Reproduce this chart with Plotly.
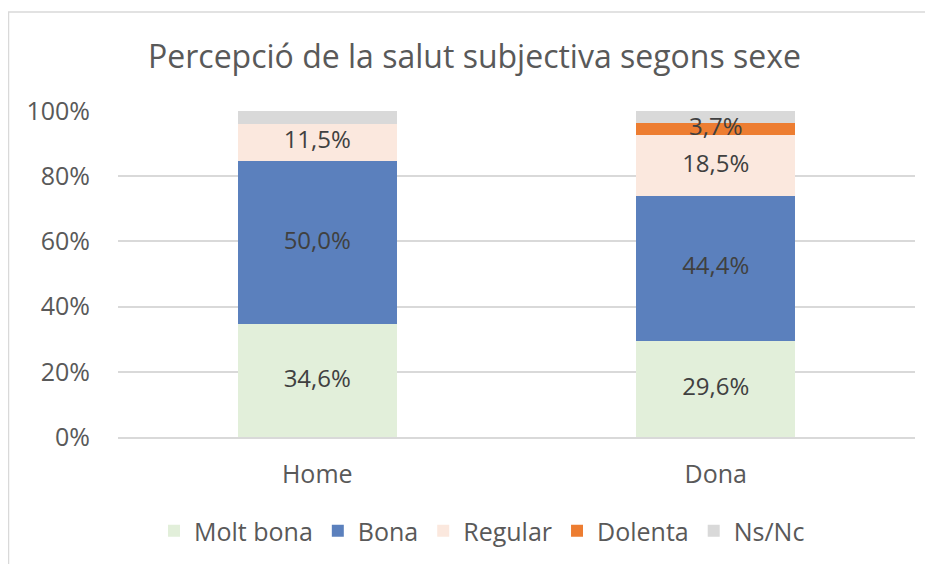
import plotly.graph_objects as go

categories = ['Home', 'Dona']
series_names = ['Molt bona', 'Bona', 'Regular', 'Dolenta', 'Ns/Nc']
molt_bona = [0.346, 0.296]
bona = [0.500, 0.444]
regular = [0.115, 0.185]
dolenta = [0.0, 0.037]
ns_nc = [0.039, 0.038]
show_labels = [True, True, True, True, False]
colors = ['#E2EFDA', '#5B80BD', '#FBE8DE', '#ED7D31', '#D9D9D9']

# page body adds an 8px offset, so layout numbers are reference px - 8
W, H = 933, 564
L, R, T, B = 110, 26, 103, 135


def fmt(v):
    return f'{v * 100:.1f}%'.replace('.', ',')


series = [molt_bona, bona, regular, dolenta, ns_nc]

fig = go.Figure()
for name, values, color in zip(series_names, series, colors):
    fig.add_trace(go.Bar(
        name=name,
        x=categories,
        y=values,
        marker=dict(color=color, line=dict(width=0)),
        hoverinfo='skip',
    ))

# data labels drawn on top of all bars, at the middle of each segment
lab_x, lab_y, lab_t = [], [], []
base = [0.0] * len(categories)
for values, lab in zip(series, show_labels):
    for i, v in enumerate(values):
        if lab and v > 0:
            lab_x.append(categories[i])
            lab_y.append(base[i] + v / 2)
            lab_t.append(fmt(v))
        base[i] += v
fig.add_trace(go.Scatter(
    x=lab_x, y=lab_y, text=lab_t, mode='text',
    textposition='middle center',
    textfont=dict(family='Open Sans', size=24, color='#404040'),
    showlegend=False, hoverinfo='skip', cliponaxis=False,
))

# border around the chart area (in paper coordinates)
pw, ph = W - L - R, H - T - B
fig.add_shape(
    type='rect', xref='paper', yref='paper',
    x0=(0.5 - L) / pw, x1=(W + 20 - L) / pw,
    y0=-(H + 20 - T - ph) / ph, y1=(H - 4 - B) / ph,
    line=dict(color='#D9D9D9', width=1.5), fillcolor='rgba(0,0,0,0)', layer='below',
)

fig.update_layout(
    width=W, height=H,
    margin=dict(l=L, r=R, t=T, b=B),
    barmode='stack',
    bargap=0.6,
    separators=',.',
    plot_bgcolor='white',
    paper_bgcolor='white',
    font=dict(family='Open Sans', color='#595959'),
    title=dict(
        text='Percepció de la salut subjectiva segons sexe',
        x=0.5, xanchor='center', xref='container',
        y=1 - 49 / H, yanchor='middle',
        font=dict(family='Open Sans', size=32, color='#595959'),
    ),
    legend=dict(
        orientation='h', x=(482 - 8 - L) / pw, xanchor='center', xref='paper',
        y=-(523 - (H - B)) / ph, yanchor='middle',
        font=dict(family='Open Sans', size=25, color='#595959'),
        itemwidth=30, traceorder='normal',
    ),
    showlegend=True,
)
fig.update_yaxes(
    range=[0, 1], tickformat='.0%', dtick=0.2,
    showgrid=True, gridcolor='#D9D9D9', gridwidth=1.5,
    zeroline=False, showline=False,
    tickfont=dict(family='Open Sans', size=25, color='#595959'),
    ticklabelstandoff=27,
)
fig.update_xaxes(
    showline=True, linecolor='#D9D9D9', linewidth=1.5,
    tickfont=dict(family='Open Sans', size=25, color='#595959'),
    ticklabelstandoff=14,
)

fig.write_html('out.html')
